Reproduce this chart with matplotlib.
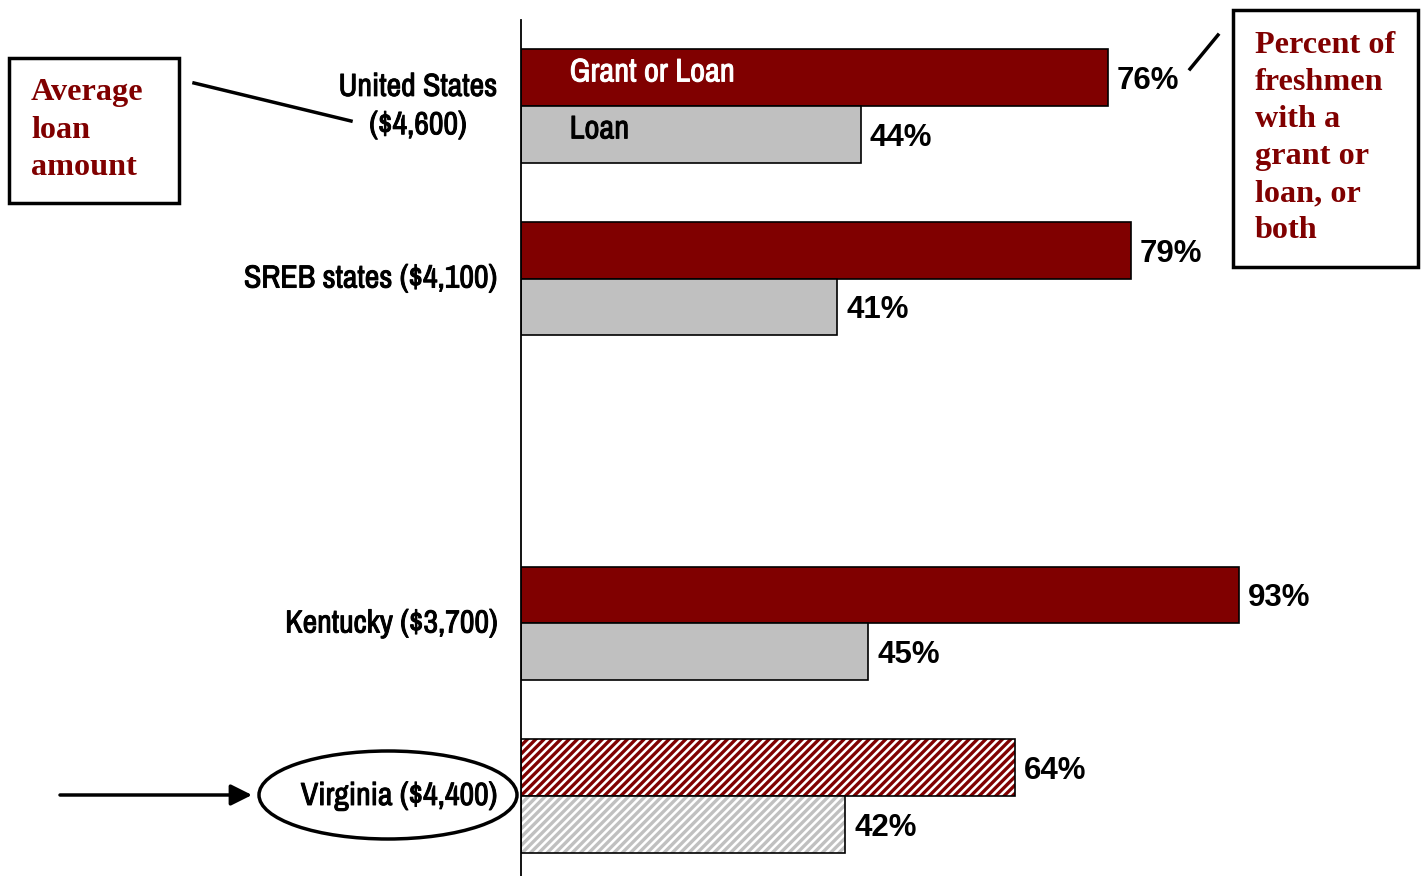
import matplotlib
matplotlib.use("Agg")
import matplotlib.pyplot as plt
import matplotlib.patheffects as pe
from matplotlib.patches import Rectangle, Ellipse, FancyArrowPatch
from matplotlib.lines import Line2D

# ---- data ----
categories = ["United States\n($4,600)", "SREB states ($4,100)", "Kentucky ($3,700)", "Virginia ($4,400)"]
slots = [0, 1, 3, 4]                 # empty slot between SREB and Kentucky
grant_or_loan = [76, 79, 93, 64]
loan = [44, 41, 45, 42]
highlight = [False, False, False, True]

RED = "#800000"
GRAY = "#C0C0C0"
plt.rcParams['hatch.linewidth'] = 2.4

W, H = 1424, 876
fig = plt.figure(figsize=(W / 100, H / 100), dpi=100)
ax = fig.add_axes([521 / W, 0, (W - 521) / W, 856 / H])

bh = 0.33
narrow = ['Liberation Sans Narrow', 'Arial Narrow', 'Archivo Narrow', 'Roboto Condensed',
          'PT Sans Narrow', 'Asap Condensed', 'DejaVu Sans']


def boldfx(color):
    return [pe.withStroke(linewidth=0.7, foreground=color)]


pct_font = dict(fontsize=22.5, fontweight="bold", family="Liberation Sans")
for s, g, l, hl in zip(slots, grant_or_loan, loan, highlight):
    yg, yl = s - bh / 2, s + bh / 2
    if hl:
        ax.barh(yg, g, height=bh, color="white", edgecolor=RED, hatch="////", linewidth=0)
        ax.barh(yg, g, height=bh, fill=False, edgecolor="black", linewidth=1.2)
        ax.barh(yl, l, height=bh, color="white", edgecolor=GRAY, hatch="////", linewidth=0)
        ax.barh(yl, l, height=bh, fill=False, edgecolor="black", linewidth=1.2)
    else:
        ax.barh(yg, g, height=bh, color=RED, edgecolor="black", linewidth=1.2)
        ax.barh(yl, l, height=bh, color=GRAY, edgecolor="black", linewidth=1.2)
    ax.text(g + 1.2, yg + 0.02, f"{g}%", ha="left", va="center", **pct_font)
    ax.text(l + 1.2, yl + 0.02, f"{l}%", ha="left", va="center", **pct_font)

# in-bar legend labels
ax.text(6.3, slots[0] - bh / 2 - 0.03, "Grant or Loan", color="white", fontsize=23.5,
        fontweight="bold", family=narrow, va="center", ha="left", path_effects=boldfx("white"))
ax.text(6.3, slots[0] + bh / 2 - 0.03, "Loan", color="black", fontsize=23.5,
        fontweight="bold", family=narrow, va="center", ha="left", path_effects=boldfx("black"))

ax.set_xlim(0, 117)
ax.set_ylim(4.464, -0.499)
ax.set_yticks(slots)
ax.set_yticklabels(categories, fontsize=23, fontweight="bold", family=narrow)
for t in ax.get_yticklabels():
    t.set_multialignment("center")
    t.set_verticalalignment("center")
    t.set_linespacing(1.45)
    t.set_path_effects(boldfx("black"))
ax.tick_params(axis="y", length=0, pad=17)
ax.set_xticks([])
for sp in ["top", "right", "bottom"]:
    ax.spines[sp].set_visible(False)
ax.spines["left"].set_linewidth(1.3)


def fx(px):
    return px / W


def fy(py):
    return 1 - py / H


serif = dict(color=RED, fontsize=23.2, fontweight="bold", family="Liberation Serif",
             va="center", ha="left", linespacing=1.37)

# left annotation box
fig.add_artist(Rectangle((fx(9), fy(203)), fx(179) - fx(9), fy(58) - fy(203),
                         fill=False, edgecolor="black", linewidth=2.5, transform=fig.transFigure))
fig.text(fx(31), fy(130), "Average\nloan\namount", **serif)
fig.add_artist(Line2D([fx(194), fx(351)], [fy(83), fy(121)], color="black", linewidth=2.5,
                      transform=fig.transFigure))

# right annotation box
fig.add_artist(Rectangle((fx(1233), fy(267)), fx(1418) - fx(1233), fy(10) - fy(267),
                         fill=False, edgecolor="black", linewidth=2.5, transform=fig.transFigure))
fig.text(fx(1255), fy(138), "Percent of\nfreshmen\nwith a\ngrant or\nloan, or\nboth", **serif)
fig.add_artist(Line2D([fx(1190), fx(1218)], [fy(69), fy(35)], color="black", linewidth=2.5,
                      transform=fig.transFigure))

# Virginia highlight: ellipse + arrow
fig.add_artist(Ellipse((fx(388), fy(795)), fx(258), 88 / H, fill=False, edgecolor="black",
                       linewidth=2.5, transform=fig.transFigure))
fig.add_artist(FancyArrowPatch((fx(60), fy(795)), (fx(252), fy(795)), arrowstyle="-|>",
                               mutation_scale=32, color="black", linewidth=2.5,
                               shrinkA=0, shrinkB=0, transform=fig.transFigure))

fig.savefig("out.png", dpi=100)
